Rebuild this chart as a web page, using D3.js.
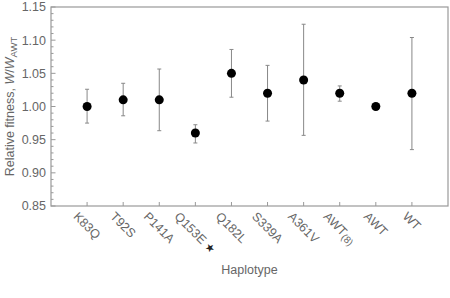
<!DOCTYPE html>
<html><head><meta charset="utf-8">
<script src="https://cdn.jsdelivr.net/npm/d3@7"></script>
<style>body{margin:0;background:#fff}text{font-family:"Liberation Sans",Arial,sans-serif}</style>
</head><body><svg id="c" width="450" height="298"></svg>
<script>
const categories = ["K83Q","T92S","P141A","Q153E","Q182L","S339A","A361V","AWT(8)","AWT","WT"];
const fitness = [1.00,1.01,1.01,0.96,1.05,1.02,1.04,1.02,1.00,1.02];
const errLow  = [0.975,0.986,0.9635,0.945,1.014,0.978,0.9565,1.008,null,0.935];
const errHigh = [1.026,1.035,1.0565,0.9725,1.086,1.062,1.124,1.031,null,1.104];
const yTicks = [0.85,0.90,0.95,1.00,1.05,1.10,1.15];

const svg = d3.select("#c");
const L=51,R=448,T=7,B=206;
const x = d3.scalePoint().domain(categories).range([L,R]).padding(1);
const y = d3.scaleLinear().domain([0.85,1.15]).range([B,T]);
const grey="#999", txt="#666";

// frame
svg.append("rect").attr("x",L).attr("y",T).attr("width",R-L).attr("height",B-T)
  .attr("fill","none").attr("stroke",grey).attr("stroke-width",1.2);

// y axis
const minor = d3.range(85,116).map(v=>v/100);
const ya = svg.append("g").attr("transform",`translate(${L},0)`);
ya.selectAll("line.mn").data(minor).join("line")
  .attr("x1",0).attr("x2",d=>yTicks.some(t=>Math.abs(t-d)<1e-6)?4.5:2.5)
  .attr("y1",d=>y(d)).attr("y2",d=>y(d)).attr("stroke",grey);
ya.selectAll("text").data(yTicks).join("text")
  .attr("x",-5).attr("y",d=>y(d)).attr("dy","0.35em").attr("text-anchor","end")
  .attr("font-size",12.5).attr("fill",txt).text(d=>d3.format(".2f")(d));

// x ticks
svg.append("g").selectAll("line").data(categories).join("line")
  .attr("x1",d=>x(d)).attr("x2",d=>x(d)).attr("y1",B).attr("y2",B-4).attr("stroke",grey);

// x labels rotated
const xl = svg.append("g");
categories.forEach(c=>{
  const t = xl.append("text").attr("font-size",12.5).attr("fill",txt).attr("text-anchor","middle");
  if(c==="AWT(8)"){
    t.append("tspan").text("AWT");
    t.append("tspan").attr("font-size",10).attr("dy",2).text("(8)");
  } else if(c==="Q153E"){
    t.append("tspan").text("Q153E ");
    t.append("tspan").attr("fill","#222").attr("font-size",11).text("★");
  } else t.text(c);
  const len = t.node().getComputedTextLength();
  const h = 9;
  const half = (len+h)/(2*Math.SQRT2);
  const cy = 211 + half;
  t.attr("transform",`translate(${x(c)},${cy}) rotate(45)`).attr("dy","0.35em");
});

// error bars
const eb = svg.append("g").attr("stroke","#888").attr("stroke-width",1);
categories.forEach((c,i)=>{
  if(errLow[i]==null) return;
  const cx=x(c);
  eb.append("line").attr("x1",cx).attr("x2",cx).attr("y1",y(errLow[i])).attr("y2",y(errHigh[i]));
  eb.append("line").attr("x1",cx-2).attr("x2",cx+2).attr("y1",y(errLow[i])).attr("y2",y(errLow[i]));
  eb.append("line").attr("x1",cx-2).attr("x2",cx+2).attr("y1",y(errHigh[i])).attr("y2",y(errHigh[i]));
});

// points
svg.append("g").selectAll("circle").data(categories).join("circle")
  .attr("cx",d=>x(d)).attr("cy",(d,i)=>y(fitness[i])).attr("r",4.5).attr("fill","#000");

// axis titles
svg.append("text").attr("x",(L+R)/2).attr("y",274).attr("text-anchor","middle")
  .attr("font-size",12.5).attr("fill",txt).text("Haplotype");
const yt = svg.append("text").attr("transform",`translate(14,${(T+B)/2}) rotate(-90)`)
  .attr("text-anchor","middle").attr("font-size",12.5).attr("fill",txt);
yt.append("tspan").text("Relative fitness, ");
yt.append("tspan").attr("font-style","italic").text("W");
yt.append("tspan").text("/");
yt.append("tspan").attr("font-style","italic").text("W");
yt.append("tspan").attr("font-size",9.5).attr("dy",3).text("AWT");
</script></body></html>
